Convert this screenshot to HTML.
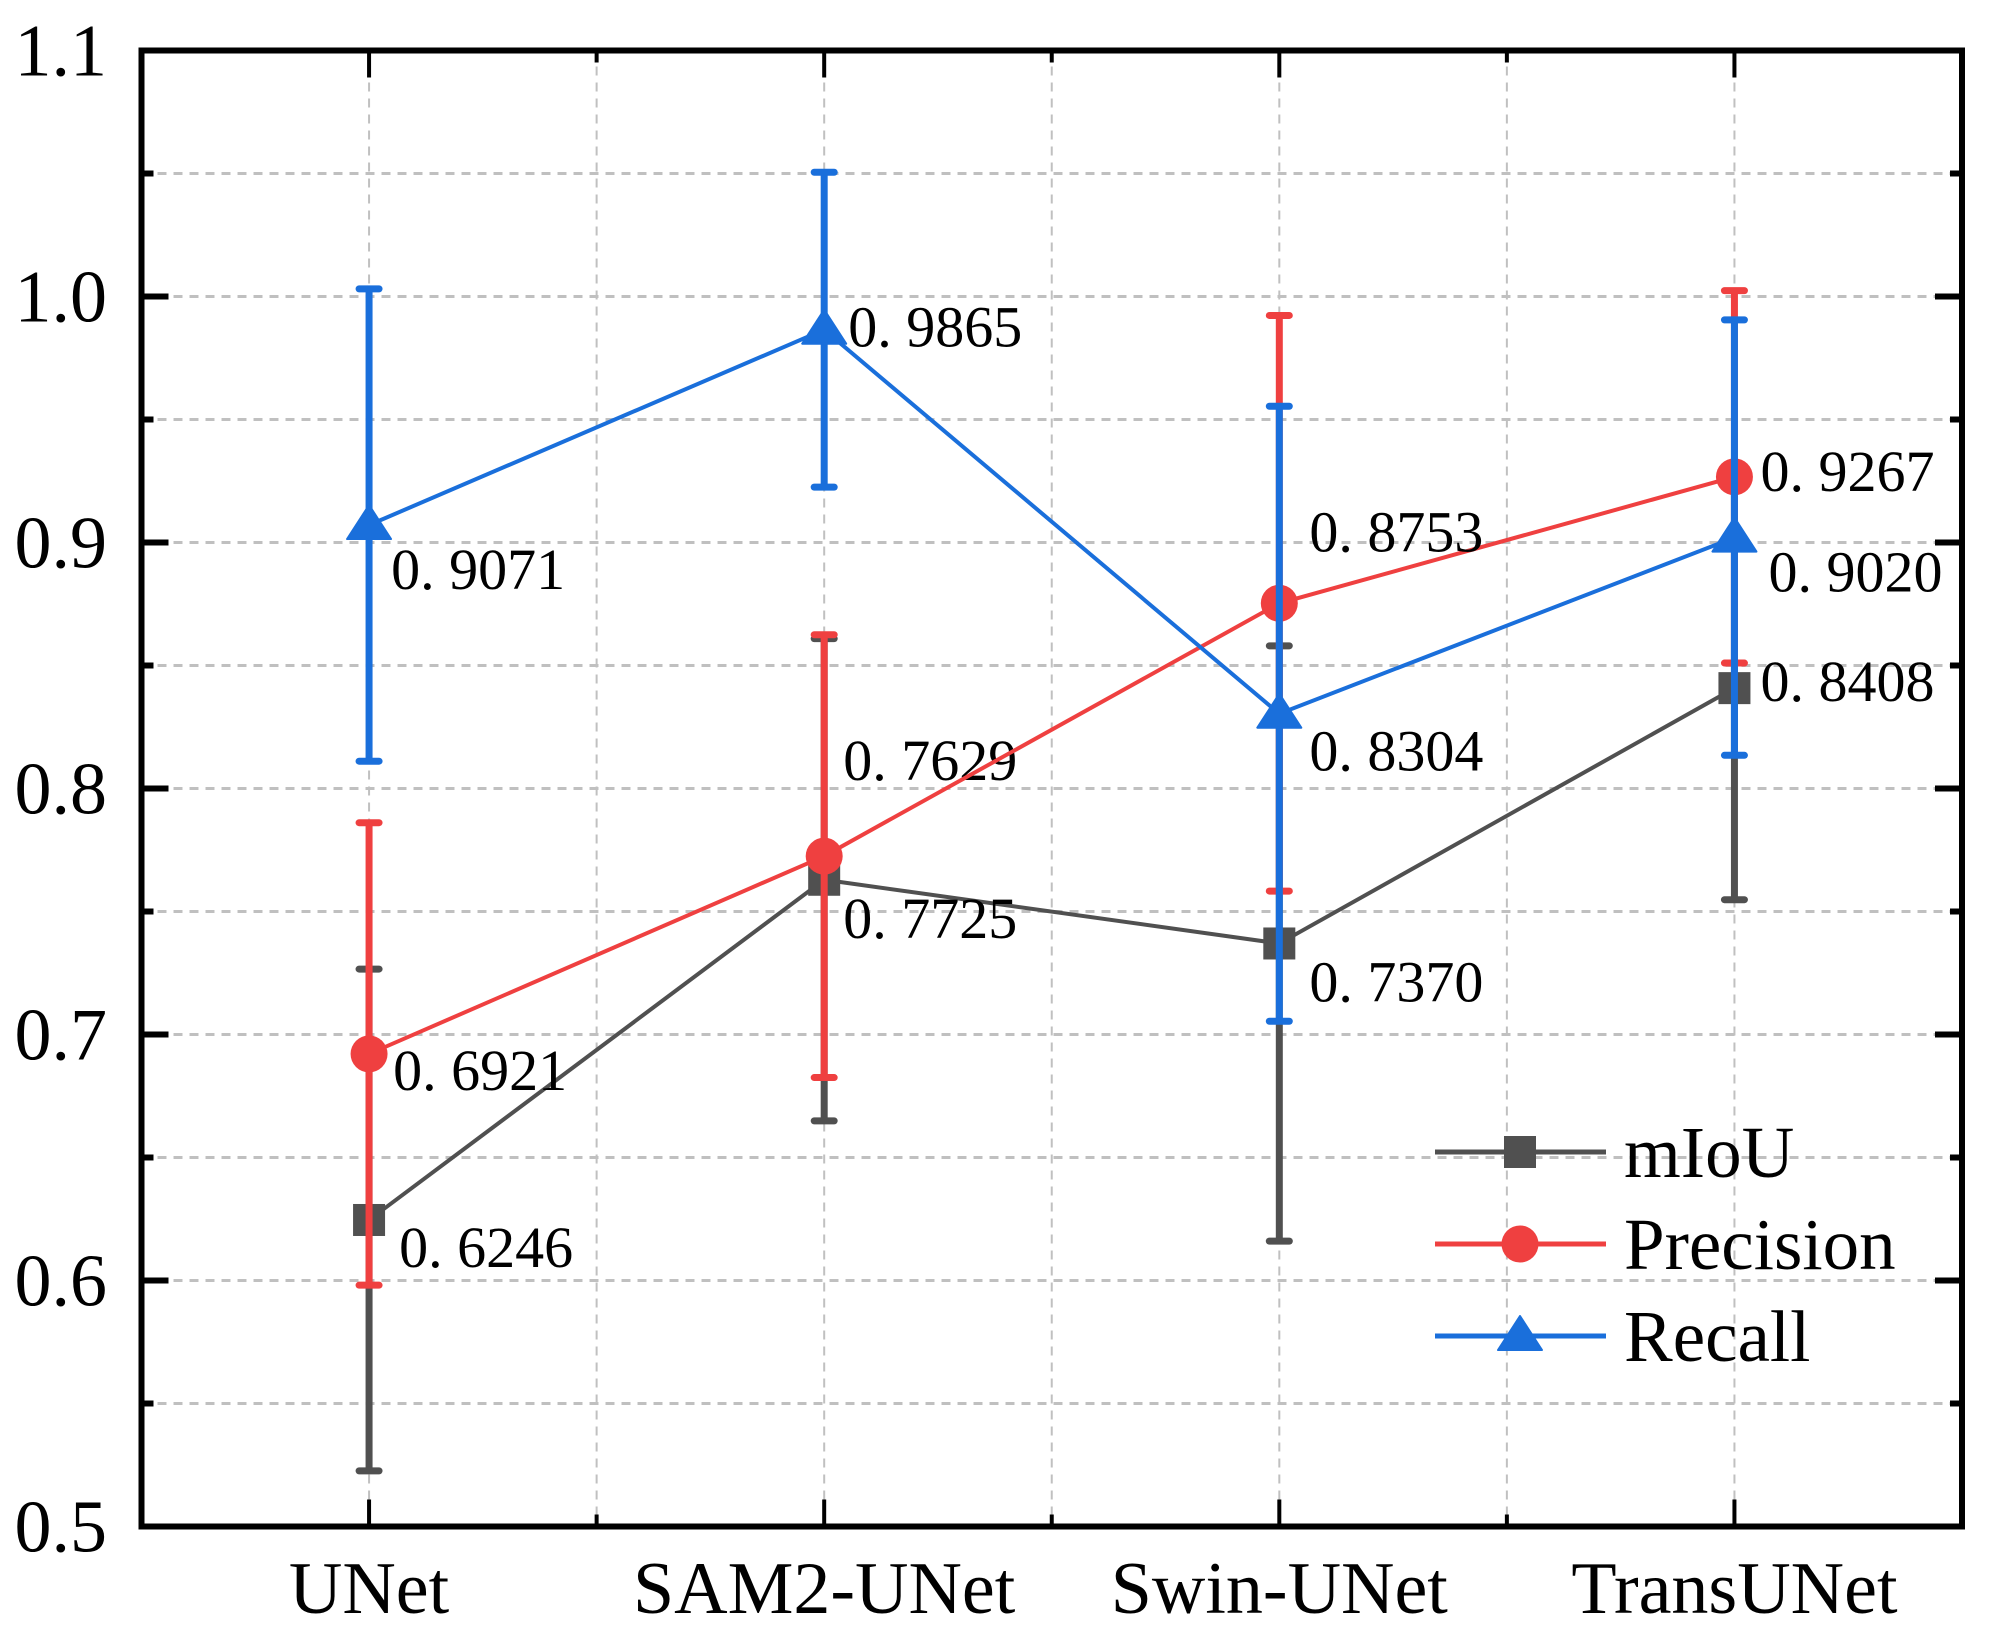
<!DOCTYPE html>
<html><head><meta charset="utf-8"><style>
html,body{margin:0;padding:0;background:#fff;}
svg{display:block;}
text{font-family:"Liberation Serif",serif;}
</style></head><body>
<svg id="chart" width="1989" height="1643" viewBox="0 0 1989 1643" xmlns="http://www.w3.org/2000/svg">
<g id="grid"></g>
<g id="axes"></g>
<g id="plot"></g>
<g id="legend"></g>
</svg>
<script>
const categories = ["UNet", "SAM2-UNet", "Swin-UNet", "TransUNet"];
const miouValues = [0.6246, 0.7629, 0.7370, 0.8408];
const miouErrors = [0.102, 0.098, 0.121, 0.086];
const precisionValues = [0.6921, 0.7725, 0.8753, 0.9267];
const precisionErrors = [0.094, 0.090, 0.117, 0.0757];
const recallValues = [0.9071, 0.9865, 0.8304, 0.9020];
const recallErrors = [0.096, 0.064, 0.125, 0.0885];
const yTicks = [0.5, 0.6, 0.7, 0.8, 0.9, 1.0, 1.1];
const yTickLabels = ["0.5", "0.6", "0.7", "0.8", "0.9", "1.0", "1.1"];
const miouLabels = ["0. 6246", "0. 7629", "0. 7370", "0. 8408"];
const precisionLabels = ["0. 6921", "0. 7725", "0. 8753", "0. 9267"];
const recallLabels = ["0. 9071", "0. 9865", "0. 8304", "0. 9020"];

// label offsets relative to each label's own point (style, not data)
const miouLabelOff = [[30,47],[19,-100],[30,58],[26,13]];
const precisionLabelOff = [[24,36],[19,82],[30,-52],[26,14]];
const recallLabelOff = [[22,64],[24,17],[30,57],[34,54]];

const NS = "http://www.w3.org/2000/svg";
const L = 141.5, R = 1962, T = 50.5, B = 1526.5;
const yMin = 0.5, yMax = 1.1;
function yScale(v){ return B - (v - yMin) / (yMax - yMin) * (B - T); }
function xScale(i){ const step = (R - L) / categories.length; return L + step * (i + 0.5); }
function mk(parent, tag, attrs){
  const el = document.createElementNS(NS, tag);
  for (const k in attrs) el.setAttribute(k, attrs[k]);
  parent.appendChild(el); return el;
}
const grid = document.getElementById('grid');
const axes = document.getElementById('axes');
const plot = document.getElementById('plot');
const legend = document.getElementById('legend');

for (let v = 0.55; v < 1.099; v += 0.05) {
  const y = yScale(v);
  const g = mk(grid, 'line', {x1:L, x2:R, y1:y, y2:y, stroke:'#c0c0c0', 'stroke-width':3, 'stroke-dasharray':'9 7'});
  
  
}
for (let k = 0; k < categories.length * 2 - 1; k++) {
  const x = L + (R - L) / (categories.length * 2) * (k + 1);
  const g = mk(grid, 'line', {x1:x, x2:x, y1:T, y2:B, stroke:'#c0c0c0', 'stroke-width':2, 'stroke-dasharray':'9 7'});
  
  
}

const frame = mk(axes, 'rect', {x:L, y:T, width:R-L, height:B-T, fill:'none', stroke:'#000', 'stroke-width':6});



for (let v = 0.55; v < 1.099; v += 0.05) {
  const y = yScale(v);
  const major = Math.abs(Math.round(v*10) - v*10) < 0.01;
  const len = major ? 27 : 12;
  mk(axes, 'line', {x1:L, x2:L+len, y1:y, y2:y, stroke:'#000', 'stroke-width':6});
  mk(axes, 'line', {x1:R, x2:R-len, y1:y, y2:y, stroke:'#000', 'stroke-width':6});
}
yTicks.forEach((v, i) => {
  const t = mk(axes, 'text', {x:107, y:yScale(v)+25, 'text-anchor':'end', 'font-size':74, fill:'#000'});
  t.textContent = yTickLabels[i];
  
  
});
for (let k = 0; k < categories.length * 2 - 1; k++) {
  const x = L + (R - L) / (categories.length * 2) * (k + 1);
  const len = (k % 2 === 0) ? 27 : 12;
  mk(axes, 'line', {x1:x, x2:x, y1:B, y2:B-len, stroke:'#000', 'stroke-width':4});
  mk(axes, 'line', {x1:x, x2:x, y1:T, y2:T+len, stroke:'#000', 'stroke-width':4});
}
categories.forEach((c, i) => {
  const t = mk(axes, 'text', {x:xScale(i), y:1613, 'text-anchor':'middle', 'font-size':74, fill:'#000'});
  t.textContent = c;
  
  
});

function marker(parent, type, x, y, color){
  let m;
  if (type === 'square') m = mk(parent, 'rect', {x:x-16, y:y-16, width:32, height:32, fill:color});
  else if (type === 'circle') m = mk(parent, 'circle', {cx:x, cy:y, r:18.5, fill:color});
  else m = mk(parent, 'polygon', {points:`${x},${y-20} ${x-22},${y+14} ${x+22},${y+14}`, fill:color, stroke:color, 'stroke-width':2, 'stroke-linejoin':'round'});
  return m;
}

function drawSeries(name, values, errors, labels, offs, color, type){
  const g = mk(plot, 'g', {});
  
  
  values.forEach((v, i) => {
    const x = xScale(i);
    const eb = mk(g, 'line', {x1:x, x2:x, y1:yScale(v+errors[i]), y2:yScale(v-errors[i]), stroke:color, 'stroke-width':7});
    
    
    [v+errors[i], v-errors[i]].forEach(e => {
      const c = mk(g, 'line', {x1:x-10, x2:x+10, y1:yScale(e), y2:yScale(e), stroke:color, 'stroke-width':7, 'stroke-linecap':'round'});
      
      
    });
  });
  const pts = values.map((v, i) => xScale(i) + ',' + yScale(v)).join(' ');
  const pl = mk(g, 'polyline', {points:pts, fill:'none', stroke:color, 'stroke-width':4});
  
  
  values.forEach((v, i) => {
    const m = marker(g, type, xScale(i), yScale(v), color);
    
    
  });
  labels.forEach((lab, i) => {
    const t = mk(g, 'text', {x:xScale(i)+offs[i][0], y:yScale(values[i])+offs[i][1], 'font-size':58, fill:'#000'});
    t.textContent = lab;
    
    
  });
}
drawSeries('miou', miouValues, miouErrors, miouLabels, miouLabelOff, '#505050', 'square');
drawSeries('precision', precisionValues, precisionErrors, precisionLabels, precisionLabelOff, '#ef4040', 'circle');
drawSeries('recall', recallValues, recallErrors, recallLabels, recallLabelOff, '#1a6fdb', 'triangle');

const legendItems = [["mIoU", '#505050', 'square', 1152], ["Precision", '#ef4040', 'circle', 1244], ["Recall", '#1a6fdb', 'triangle', 1336]];
legendItems.forEach(it => {
  const g = mk(legend, 'g', {});
  
  
  mk(g, 'line', {x1:1435, x2:1606, y1:it[3], y2:it[3], stroke:it[1], 'stroke-width':5});
  marker(g, it[2], 1520, it[3], it[1]);
  const t = mk(g, 'text', {x:1624, y:it[3]+25, 'font-size':73, fill:'#000'});
  t.textContent = it[0];
});
</script>
</body></html>
